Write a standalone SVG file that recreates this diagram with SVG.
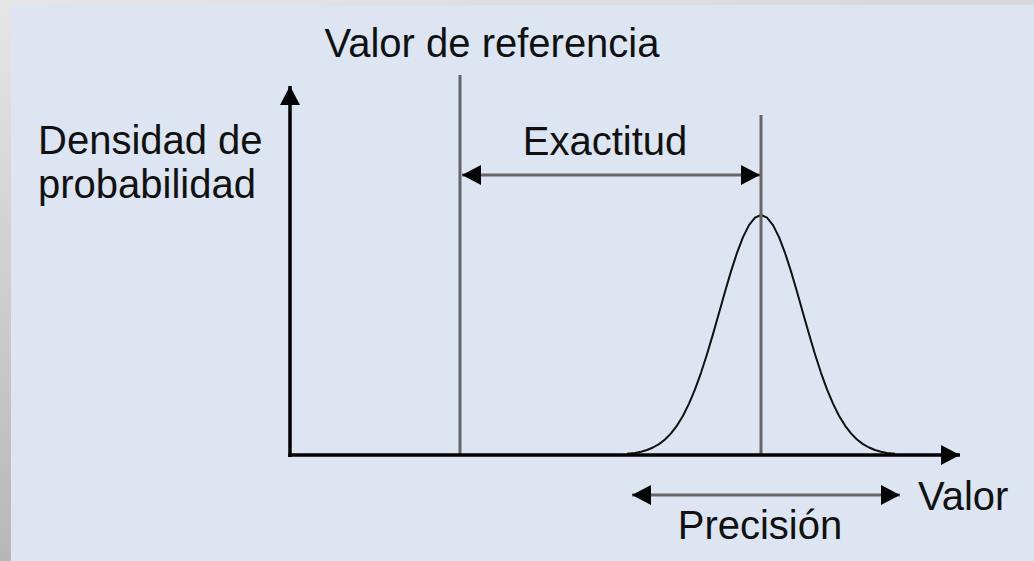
<svg xmlns="http://www.w3.org/2000/svg" width="1034" height="561" viewBox="0 0 1034 561">
  <defs>
    <linearGradient id="frame" x1="0" y1="0" x2="0.3" y2="1">
      <stop offset="0" stop-color="#e6e6e6"/>
      <stop offset="1" stop-color="#b3b3b3"/>
    </linearGradient>
    <marker id="ah" viewBox="0 0 19 20" refX="19" refY="10" markerWidth="19" markerHeight="20" markerUnits="userSpaceOnUse" orient="auto-start-reverse">
      <path d="M0,0 L19,10 L0,20 Z" fill="#000"/>
    </marker>
  </defs>
  <style>
    .lbl { font-family: "Liberation Sans", Arial, sans-serif; font-size: 40px; fill: #111; }
    .axis { stroke: #000; stroke-width: 3.5; fill: none; }
    .guide { stroke: #666; stroke-width: 3; fill: none; }
    .dim { stroke: #666; stroke-width: 3; fill: none; }
    .curve { stroke: #111; stroke-width: 2; fill: none; stroke-linejoin: round; }
  </style>
  <rect x="0" y="0" width="1034" height="561" fill="url(#frame)"/>
  <rect x="11" y="5" width="1023" height="556" fill="#dce5f1"/>

  <g id="curve">
    <polyline class="curve" points="627,453.8 635,452.9 641,451.7 647,450 653,447.5 659,444.1 665,439.5 671,433.4 677,425.6 683,415.7 689,403.6 695,389.3 701,372.8 707,354.2 713,334.1 719,313 725,291.8 731,271.4 737,252.8 743,237.1 749,225.1 755,217.6 761,215 767,217.6 773,225.1 779,237.1 785,252.8 791,271.4 797,291.8 803,313 809,334.1 815,354.2 821,372.8 827,389.3 833,403.6 839,415.7 845,425.6 851,433.4 857,439.5 863,444.1 869,447.5 875,450 881,451.7 887,452.9 895,453.8"/>
  </g>

  <g id="guides">
    <line id="ref-line" class="guide" x1="460" y1="75" x2="460" y2="455"/>
    <line id="mean-line" class="guide" x1="761" y1="115" x2="761" y2="455"/>
  </g>

  <g id="connectors">
    <line id="y-axis" class="axis" x1="290" y1="457" x2="290" y2="86" marker-end="url(#ah)"/>
    <line id="x-axis" class="axis" x1="288.25" y1="455" x2="960" y2="455" marker-end="url(#ah)"/>
    <line id="exactitud-arrow" class="dim" x1="462" y1="175" x2="760" y2="175" marker-start="url(#ah)" marker-end="url(#ah)"/>
    <line id="precision-arrow" class="dim" x1="632" y1="495" x2="900" y2="495" marker-start="url(#ah)" marker-end="url(#ah)"/>
  </g>

  <g id="labels">
    <text class="lbl" x="492" y="57" text-anchor="middle">Valor de referencia</text>
    <text class="lbl" x="38" y="154">Densidad de</text>
    <text class="lbl" x="38" y="198">probabilidad</text>
    <text class="lbl" x="605" y="155" text-anchor="middle">Exactitud</text>
    <text class="lbl" x="918" y="510">Valor</text>
    <text class="lbl" x="760" y="539" text-anchor="middle">Precisión</text>
  </g>
</svg>
